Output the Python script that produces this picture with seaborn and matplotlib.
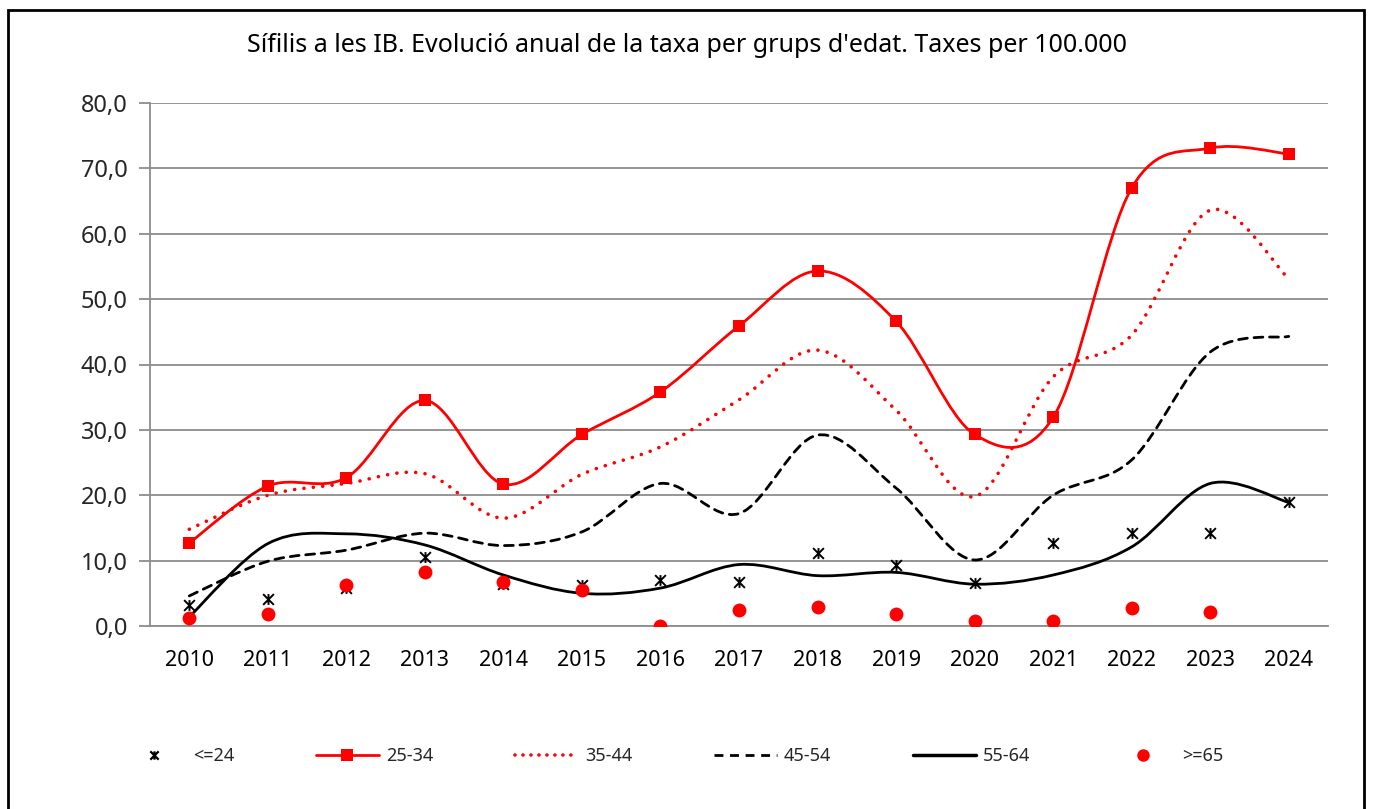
"""
Sífilis a les IB: annual rate per age group, Excel-style smoothed lines.
"""

import numpy as np
import pandas as pd
import matplotlib
matplotlib.use("Agg")
import matplotlib.pyplot as plt
import seaborn as sns
from matplotlib.path import Path
from matplotlib.patches import PathPatch, Rectangle
from matplotlib.lines import Line2D
from matplotlib.ticker import FuncFormatter

# ---------------------------------------------------------------------------
# Data
# ---------------------------------------------------------------------------

years = list(range(2010, 2025))

age_le24 = [3.2, 4.2, 5.8, 10.6, 6.5, 6.3, 7.1, 6.8, 11.2, 9.3, 6.6, 12.7, 14.2, 14.2, 19.0]
age_25_34 = [12.7, 21.4, 22.7, 34.5, 21.7, 29.3, 35.8, 45.9, 54.3, 46.6, 29.3, 31.9, 67.0, 73.1, 72.2]
age_35_44 = [14.8, 20.0, 21.8, 23.3, 16.5, 23.2, 27.4, 34.6, 42.2, 33.0, 19.8, 38.1, 44.5, 63.6, 53.1]
age_45_54 = [4.6, 9.9, 11.6, 14.2, 12.3, 14.4, 21.8, 17.2, 29.2, 21.1, 10.1, 20.0, 25.4, 41.9, 44.3]
age_55_64 = [1.4, 12.6, 14.1, 12.4, 7.8, 5.0, 5.8, 9.4, 7.7, 8.2, 6.4, 7.8, 12.1, 21.8, 18.9]
age_ge65 = [1.3, 1.9, 6.3, 8.2, 6.8, 5.5, 0.0, 2.4, 2.9, 1.8, 0.7, 0.7, 2.7, 2.1, np.nan]

labels = ["<=24", "25-34", "35-44", "45-54", "55-64", ">=65"]
title = "Sífilis a les IB. Evolució anual de la taxa per grups d'edat. Taxes per 100.000"

RED = "#FF0000"
BLACK = "#000000"
GRID = "#8C8C8C"

W, H = 1373, 809


def smooth_path(xs, ys):
    """Catmull-Rom style cubic Bezier path, like Excel's smoothed line."""
    pts = np.column_stack([xs, ys]).astype(float)
    n = len(pts)
    verts = [pts[0]]
    codes = [Path.MOVETO]
    for i in range(n - 1):
        p0 = pts[i - 1] if i > 0 else pts[i]
        p1, p2 = pts[i], pts[i + 1]
        p3 = pts[i + 2] if i + 2 < n else pts[i + 1]
        verts += [p1 + (p2 - p0) / 6.0, p2 - (p3 - p1) / 6.0, p2]
        codes += [Path.CURVE4] * 3
    return Path(verts, codes)


# star marker: X with a vertical bar
STAR = Path(
    [(-1, -1), (1, 1), (-1, 1), (1, -1), (0, -1), (0, 1)],
    [Path.MOVETO, Path.LINETO, Path.MOVETO, Path.LINETO, Path.MOVETO, Path.LINETO],
)

sns.set_theme(style="white")
plt.rcParams["font.family"] = ["Noto Sans", "DejaVu Sans"]

fig = plt.figure(figsize=(W / 100, H / 100), dpi=100)
ax = fig.add_axes([150 / W, 1 - 626 / H, (1328 - 150) / W, (626 - 103) / H])

df = pd.DataFrame({"year": years, "le24": age_le24, "a25": age_25_34, "ge65": age_ge65})

# smoothed lines
line_specs = [
    (age_25_34, RED, "-", 2.0),
    (age_35_44, RED, (0, (0.01, 2.6)), 2.6),
    (age_45_54, BLACK, (0, (3.2, 2.4)), 2.0),
    (age_55_64, BLACK, "-", 2.0),
]
for vals, col, ls, lw in line_specs:
    patch = PathPatch(smooth_path(years, vals), fill=False, edgecolor=col,
                      linestyle=ls, linewidth=lw, capstyle="round", zorder=3)
    ax.add_patch(patch)

# markers
sns.scatterplot(data=df, x="year", y="a25", marker="s", s=72, color=RED,
                edgecolor=RED, linewidth=0, ax=ax, zorder=4, legend=False)
sns.scatterplot(data=df, x="year", y="le24", marker=STAR, s=60, color=BLACK,
                edgecolor=BLACK, facecolor=BLACK, linewidth=1.4, ax=ax,
                zorder=4, legend=False)
sns.scatterplot(data=df, x="year", y="ge65", marker="o", s=100, color=RED,
                edgecolor=RED, linewidth=0, ax=ax, zorder=5, legend=False)

# axes styling
ax.set_xlim(2009.5, 2024.5)
ax.set_ylim(0, 80)
ax.set_yticks(np.arange(0, 81, 10))
ax.yaxis.set_major_formatter(FuncFormatter(lambda v, _: f"{v:.1f}".replace(".", ",")))
ax.set_xticks(years)
ax.set_xticklabels([str(y) for y in years])
ax.set_xticks(np.arange(2009.5, 2025, 1.0), minor=True)
ax.tick_params(axis="x", which="major", length=0, labelsize=15.5, pad=17, colors=BLACK)
ax.tick_params(axis="x", which="minor", length=8, width=1.3, color=GRID, direction="out")
ax.tick_params(axis="y", length=8, width=1.3, color=GRID, labelsize=17, pad=8,
               direction="out", left=True)
ax.grid(axis="y", color=GRID, linewidth=1.3)
ax.grid(axis="x", visible=False)
ax.set_axisbelow(True)
for side in ["top", "right"]:
    ax.spines[side].set_visible(False)
for side in ["left", "bottom"]:
    ax.spines[side].set_color(GRID)
    ax.spines[side].set_linewidth(1.3)
ax.set_xlabel("")
ax.set_ylabel("")

fig.text(687 / W, 1 - 46 / H, title, ha="center", va="center", fontsize=18, color=BLACK)

# legend
handles = [
    Line2D([], [], linestyle="", marker=STAR, markersize=6, color=BLACK, markeredgewidth=1.6),
    Line2D([], [], color=RED, lw=2.0, marker="s", markersize=8, markeredgewidth=0),
    Line2D([], [], color=RED, lw=2.6, linestyle=(0, (0.01, 2.2)), dash_capstyle="round"),
    Line2D([], [], color=BLACK, lw=2.0, linestyle=(0, (3.2, 2.4))),
    Line2D([], [], color=BLACK, lw=2.5),
    Line2D([], [], linestyle="", marker="o", markersize=9, color=RED, markeredgewidth=0),
]
fig.legend(handles, labels, loc="center", bbox_to_anchor=(673 / W, 1 - 756 / H),
           ncol=6, frameon=False, fontsize=13, handlelength=3.5,
           handletextpad=0.4, columnspacing=4.5)

# outer chart border
fig.add_artist(Rectangle((8 / W, -0.05), (1364 - 8) / W, 1.05 - 10 / H,
                         transform=fig.transFigure, fill=False,
                         edgecolor=BLACK, linewidth=2))

fig.savefig("out.png", dpi=100)
